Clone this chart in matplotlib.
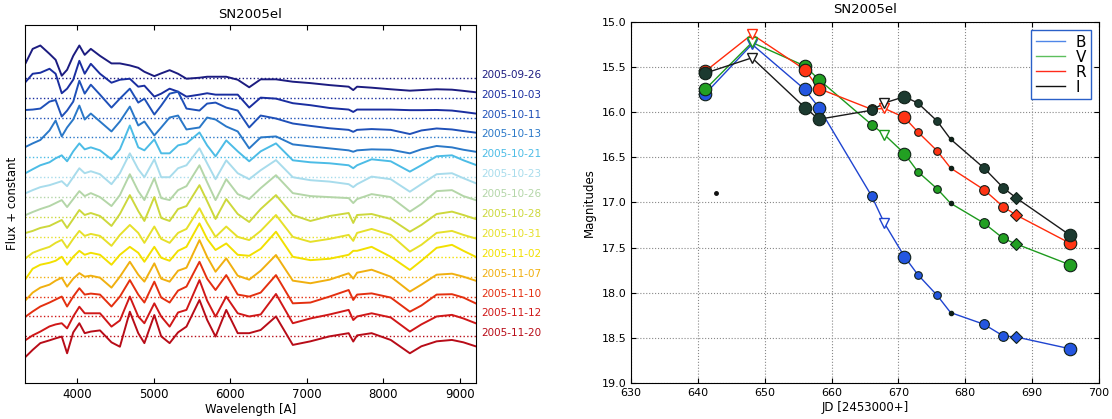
import matplotlib
matplotlib.use("Agg")
import matplotlib.pyplot as plt
from matplotlib.lines import Line2D

# ---- left panel: spectra (flux offsets relative to each dotted baseline) ----
wave = [3330, 3420, 3520, 3640, 3720, 3800, 3870, 3950, 4030, 4100, 4180,
        4300, 4450, 4560, 4690, 4800, 4880, 5010, 5100, 5210, 5320, 5430,
        5600, 5700, 5810, 5950, 6100, 6250, 6400, 6600, 6820, 7050, 7300,
        7550, 7610, 7660, 7850, 8100, 8350, 8500, 8700, 8900, 9050, 9210]

dates = ["2005-09-26", "2005-10-03", "2005-10-11", "2005-10-13", "2005-10-21",
         "2005-10-23", "2005-10-26", "2005-10-28", "2005-10-31", "2005-11-02",
         "2005-11-07", "2005-11-10", "2005-11-12", "2005-11-20"]

spec_colors = ["#1c1c80", "#1a2ea0", "#1f50b8", "#2a78c8", "#4cbce6",
               "#a8dcec", "#b4d6a8", "#cdd83c", "#e6e02a", "#f2e000",
               "#f0b010", "#e43010", "#d01818", "#b80c18"]

spectra = [
    [0.75, 1.45, 1.62, 1.2, 0.9, 0.1, 0.4, 1.1, 1.62, 1.15, 1.45, 1.1, 0.72, 0.72,
     0.62, 0.5, 0.3, 0.08, 0.22, 0.38, 0.2, -0.05, 0.0, 0.05, 0.05, 0.05, -0.1,
     -0.48, -0.08, -0.08, -0.2, -0.27, -0.37, -0.45, -0.62, -0.45, -0.5, -0.58,
     -0.65, -0.62, -0.58, -0.6, -0.66, -0.73],
    [0.8, 1.2, 1.25, 1.45, 1.2, 0.22, 0.45, 0.9, 1.85, 1.2, 1.7, 1.2, 0.75, 0.9,
     0.95, 0.55, 0.6, 0.05, 0.2, 0.45, 0.3, 0.05, 0.15, 0.22, 0.15, 0.15, 0.15,
     -0.5, 0.0, -0.05, -0.28, -0.38, -0.52, -0.6, -0.72, -0.6, -0.6, -0.6,
     -0.63, -0.63, -0.62, -0.65, -0.72, -0.8],
    [0.38, 0.4, 0.45, 0.8, 0.88, 0.05, 0.35, 0.8, 1.85, 1.2, 1.65, 1.15, 0.5, 0.95,
     1.45, 0.75, 0.95, 0.15, 0.6, 1.2, 1.3, 0.45, 0.35, 0.7, 0.75, 0.5, 0.35,
     -0.5, 0.1, -0.05, -0.3, -0.42, -0.54, -0.62, -0.72, -0.62, -0.58, -0.62,
     -0.83, -0.65, -0.55, -0.6, -0.68, -0.76],
    [-0.47, -0.3, -0.13, 0.35, 0.85, 0.05, 0.5, 0.9, 1.6, 0.9, 1.2, 0.8, 0.3, 0.8,
     1.55, 0.6, 0.8, 0.1, 0.5, 1.0, 1.1, 0.4, 0.5, 1.0, 0.9, 0.55, 0.3,
     -0.55, 0.0, 0.05, -0.35, -0.45, -0.55, -0.65, -0.72, -0.65, -0.6, -0.62,
     -0.8, -0.6, -0.43, -0.5, -0.62, -0.72],
    [-0.79, -0.6, -0.4, -0.25, -0.05, 0.1, -0.2, 0.3, 0.7, 0.4, 0.5, 0.35, -0.1, 0.4,
     1.6, 0.5, 0.35, 0.9, 0.2, 0.2, 0.6, 0.7, 1.25, 0.6, 0.05, 0.85, 0.3,
     -0.2, 0.3, 0.7, -0.15, -0.25, -0.3, -0.4, -0.55, -0.4, -0.1, -0.2,
     -0.72, -0.4, 0.05, 0.1, -0.15, -0.38],
    [-0.8, -0.65, -0.5, -0.4, -0.3, -0.2, -0.45, 0.0, 0.45, 0.2, 0.3, 0.15, -0.35, 0.2,
     1.2, 0.4, 0.0, 0.9, 0.0, 0.0, 0.45, 0.6, 1.45, 0.7, -0.1, 0.85, 0.2,
     -0.1, 0.35, 0.86, 0.0, -0.15, -0.22, -0.35, -0.5, -0.35, 0.03, -0.1,
     -0.73, -0.35, 0.15, 0.2, -0.05, -0.3],
    [-0.9, -0.75, -0.6, -0.45, -0.3, -0.15, -0.5, -0.1, 0.3, 0.05, 0.2, 0.0, -0.45, 0.1,
     1.15, 0.3, -0.15, 0.95, -0.05, -0.15, 0.35, 0.55, 1.6, 0.75, -0.15, 0.9, 0.15,
     -0.1, 0.45, 1.1, 0.2, 0.05, 0.0, -0.05, -0.3, -0.1, 0.15, 0.0,
     -0.73, -0.35, 0.3, 0.35, 0.05, -0.15],
    [-0.8, -0.7, -0.55, -0.45, -0.3, -0.15, -0.55, -0.1, 0.35, 0.1, 0.2, 0.05, -0.45, 0.15,
     1.1, 0.3, -0.2, 1.0, -0.05, -0.2, 0.4, 0.55, 1.6, 0.8, -0.1, 0.9, 0.15,
     -0.25, 0.4, 1.1, 0.1, -0.2, 0.05, 0.2, -0.3, 0.1, 0.15, -0.1,
     -0.74, -0.4, 0.15, 0.27, 0.1, -0.1],
    [-1.07, -0.8, -0.65, -0.5, -0.3, -0.15, -0.55, -0.1, 0.3, 0.05, 0.15, 0.05, -0.45, 0.1,
     0.6, 0.2, -0.3, 0.52, -0.1, -0.3, 0.2, 0.4, 1.44, 0.7, 0.0, 0.52, 0.0,
     -0.16, 0.3, 1.1, 0.0, -0.25, -0.1, 0.1, -0.2, 0.2, 0.4, 0.1,
     -0.74, -0.4, 0.2, 0.3, 0.1, -0.08],
    [-1.1, -0.6, -0.4, -0.3, -0.2, 0.0, -0.4, 0.0, 0.3, 0.1, 0.2, 0.1, -0.4, 0.1,
     0.5, 0.2, -0.25, 0.5, -0.05, -0.2, 0.3, 0.5, 1.68, 0.9, 0.34, 0.67, 0.1,
     0.05, 0.4, 1.26, 0.0, -0.17, -0.1, 0.1, 0.3, 0.3, 0.5, 0.0,
     -0.66, -0.2, 0.45, 0.6, 0.3, 0.0],
    [-1.17, -0.8, -0.55, -0.4, -0.2, -0.05, -0.5, -0.1, 0.18, 0.0, 0.05, -0.05, -0.55, 0.0,
     0.75, 0.1, -0.25, 0.67, -0.1, -0.25, 0.3, 0.45, 1.84, 1.0, 0.25, 0.92, 0.05,
     -0.15, 0.3, 1.09, -0.2, -0.33, -0.15, 0.17, -0.1, 0.2, 0.35, 0.0,
     -0.75, -0.4, 0.1, 0.15, 0.0, -0.2],
    [-1.0, -0.75, -0.5, -0.3, -0.15, 0.0, -0.5, 0.0, 0.42, 0.1, 0.15, 0.1, -0.5, 0.0,
     0.83, 0.1, -0.3, 0.75, -0.05, -0.3, 0.3, 0.5, 1.75, 0.9, 0.33, 1.08, 0.1,
     0.0, 0.2, 1.08, -0.34, -0.3, 0.0, 0.33, -0.17, 0.1, 0.16, -0.05,
     -0.76, -0.45, 0.1, 0.12, -0.05, -0.34],
    [-1.18, -0.95, -0.76, -0.5, -0.4, -0.34, -0.6, 0.0, 0.49, 0.16, 0.16, 0.16, -0.51, -0.2,
     1.0, 0.0, -0.34, 0.66, 0.0, -0.51, 0.2, 0.33, 1.83, 0.8, -0.01, 1.0, 0.16,
     0.0, 0.1, 1.13, -0.34, -0.1, 0.1, 0.33, -0.18, 0.0, 0.16, -0.05,
     -0.76, -0.4, 0.0, 0.08, -0.1, -0.34],
    [-1.02, -0.68, -0.34, -0.2, -0.1, -0.01, -0.85, 0.2, 0.66, 0.16, 0.24, 0.3, -0.3, -0.52,
     1.24, 0.16, -0.34, 1.07, 0.0, -0.34, 0.2, 0.49, 1.83, 0.83, -0.01, 1.33, 0.16,
     0.16, 0.32, 1.0, -0.43, -0.25, 0.0, 0.16, -0.26, 0.05, 0.16, -0.18,
     -0.85, -0.5, -0.25, -0.18, -0.3, -0.5],
]

# ---- right panel: light curves ----
jd = [641.1, 648.1, 656.0, 658.1, 666.0, 667.9, 670.9, 672.9, 675.8, 677.8,
      682.8, 685.7, 687.6, 695.6]
kinds = ["L", "T", "L", "L", "M", "T", "L", "S", "S", "D", "M", "M", "Q", "L"]
mag_B = [15.80, 15.25, 15.75, 15.95, 16.93, 17.23, 17.60, 17.80, 18.03, 18.22,
         18.35, 18.48, 18.49, 18.62]
mag_V = [15.75, 15.23, 15.49, 15.64, 16.14, 16.25, 16.46, 16.66, 16.85, 17.01,
         17.23, 17.40, 17.46, 17.69]
mag_R = [15.55, 15.14, 15.53, 15.74, 15.97, 15.96, 16.06, 16.22, 16.43, 16.62,
         16.86, 17.05, 17.14, 17.45]
mag_I = [15.57, 15.40, 15.95, 16.08, 15.98, 15.90, 15.83, 15.90, 16.10, 16.30,
         16.62, 16.84, 16.95, 17.36]
stray_jd = [642.7]
stray_mag = [16.90]

bands = ["B", "V", "R", "I"]
band_mags = [mag_B, mag_V, mag_R, mag_I]
line_colors = ["#1f44d0", "#1e9a1e", "#ff2a0a", "#1a1a1a"]
face_colors = ["#2456e0", "#22a022", "#ff3414", "#1c3a30"]
legend_colors = ["#4f86e8", "#5cbf5c", "#ff2a1a", "#111111"]

fig = plt.figure(figsize=(11.12, 4.19), dpi=100)

# left
ax1 = fig.add_axes([0.0225, 0.0866, 0.4056, 0.8537])
for k, (flux, col) in enumerate(zip(spectra, spec_colors)):
    base = -k
    ax1.axhline(base, color=col, linestyle=":", linewidth=1.0)
    ax1.plot(wave, [base + f for f in flux], color=col, linewidth=1.4)
    ax1.text(1.012, base + 0.15, dates[k], color=col, fontsize=7.5,
             va="center", ha="left", transform=ax1.get_yaxis_transform())
ax1.set_xlim(3320, 9215)
ax1.set_ylim(-15.33, 2.65)
ax1.set_yticks([])
ax1.set_xticks([4000, 5000, 6000, 7000, 8000, 9000])
ax1.tick_params(axis="x", direction="in", top=True, labelsize=8.5, pad=4)
ax1.set_xlabel("Wavelength [A]", fontsize=8.5, labelpad=1)
ax1.set_ylabel("Flux + constant", fontsize=8.5, labelpad=4)
ax1.set_title("SN2005el", fontsize=9.5, pad=5)

# right
ax2 = fig.add_axes([0.5674, 0.0859, 0.4209, 0.8623])
sizes = {"L": 9, "M": 7, "S": 5.5, "D": 3}
for band, mags, lc, fc, gc in zip(bands, band_mags, line_colors, face_colors, legend_colors):
    ax2.plot(jd, mags, color=lc, linewidth=1.0, zorder=2)
    for x, y, kd in zip(jd, mags, kinds):
        if kd == "T":
            ax2.plot(x, y, marker="v", markersize=6.5, markerfacecolor="white",
                     markeredgecolor=lc, markeredgewidth=1.0, zorder=3)
        elif kd == "Q":
            ax2.plot(x, y, marker="D", markersize=6.5, markerfacecolor=fc,
                     markeredgecolor="#102018", markeredgewidth=0.8, zorder=3)
        elif kd == "D":
            ax2.plot(x, y, marker="o", markersize=sizes[kd], markerfacecolor="#102018",
                     markeredgecolor="#102018", zorder=3)
        else:
            ax2.plot(x, y, marker="o", markersize=sizes[kd], markerfacecolor=fc,
                     markeredgecolor="#102018", markeredgewidth=0.8, zorder=3)
ax2.plot(stray_jd, stray_mag, "o", color="#111111", markersize=2.5)

handles = [Line2D([0], [0], color=c, linewidth=1.0) for c in legend_colors]
leg = ax2.legend(handles, bands, loc="upper right", fontsize=11, handlelength=1.9,
                 labelspacing=0.0, borderpad=0.3, handletextpad=0.7, fancybox=False,
                 framealpha=1.0, borderaxespad=0.55)
leg.get_frame().set_edgecolor("#2a60c8")
leg.get_frame().set_linewidth(1.0)

ax2.set_xlim(630, 700)
ax2.set_ylim(19.0, 15.0)
ax2.set_xticks(range(630, 701, 10))
ax2.set_yticks([15.0, 15.5, 16.0, 16.5, 17.0, 17.5, 18.0, 18.5, 19.0])
ax2.set_yticklabels(["15.0", "15.5", "16.0", "16.5", "17.0", "17.5", "18.0", "18.5", "19.0"])
ax2.grid(True, linestyle=":", color="#888888", linewidth=0.8)
ax2.tick_params(direction="in", top=True, right=True, labelsize=8)
ax2.set_xlabel("JD [2453000+]", fontsize=8.5, labelpad=2)
ax2.set_ylabel("Magnitudes", fontsize=8.5, labelpad=4)
ax2.set_title("SN2005el", fontsize=9.5, pad=6)

fig.savefig("out.png", dpi=100)
